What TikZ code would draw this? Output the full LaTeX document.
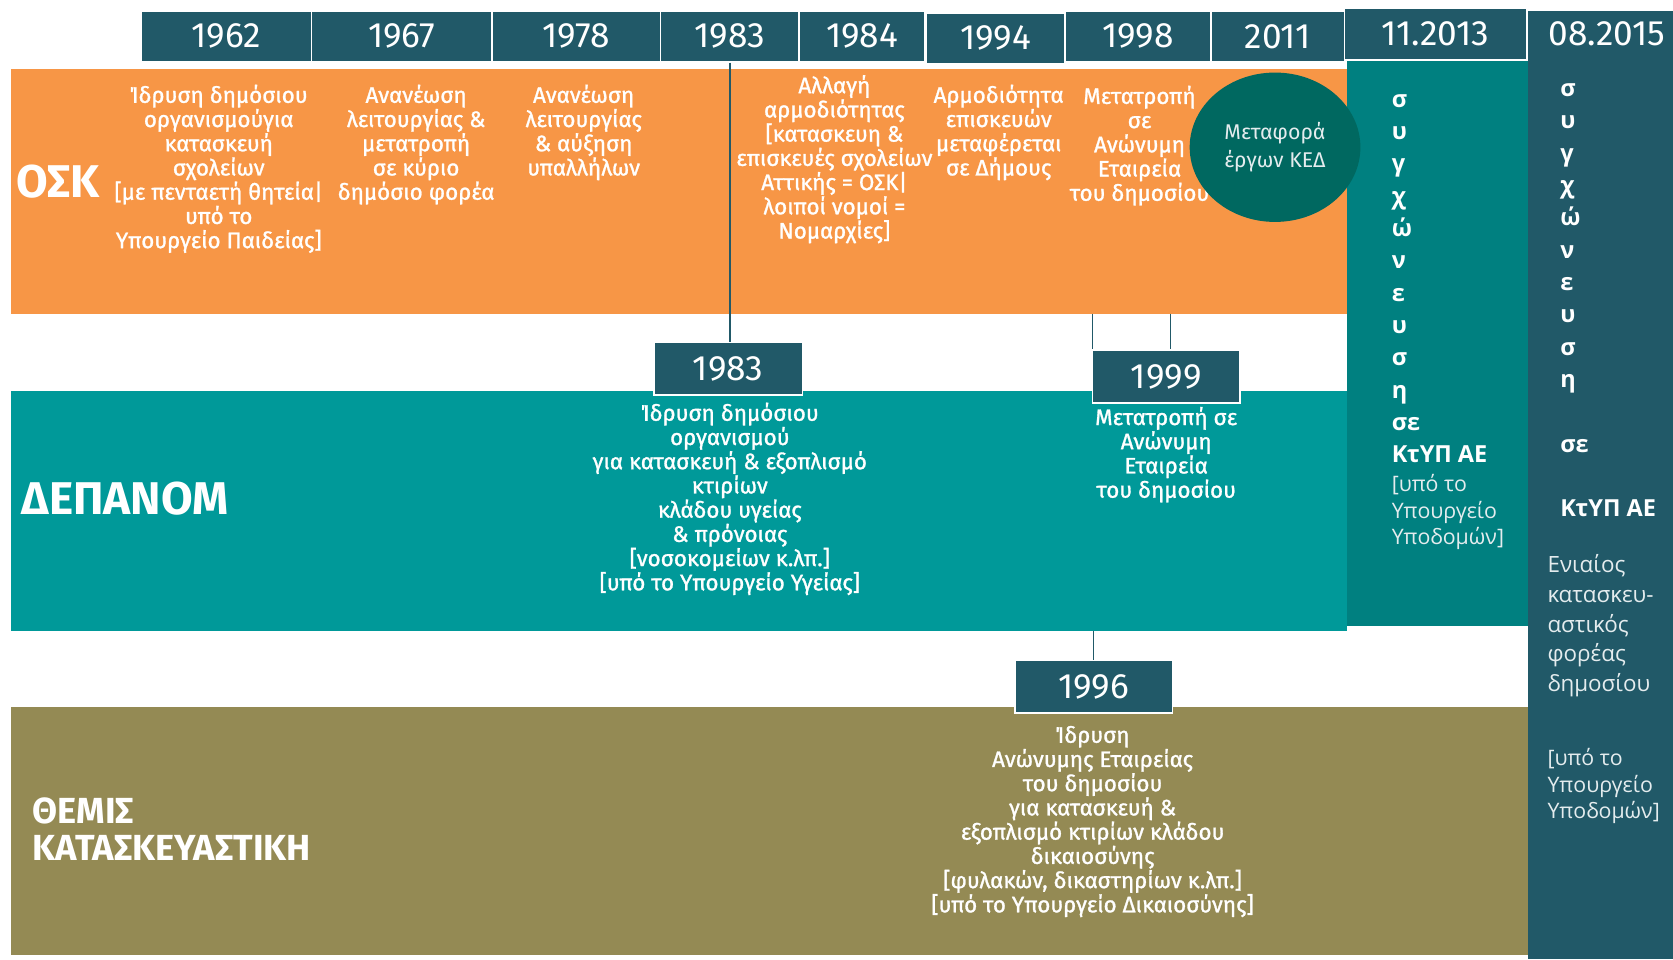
\documentclass[tikz,border=0pt]{standalone}
\usepackage{fontspec}
\setmainfont{Fira Sans}
\newfontfamily\bandfont[FakeBold=1.2]{Fira Sans}
\newfontfamily\colfont{Open Sans}
\usetikzlibrary{shapes.geometric}

\definecolor{hdr}{HTML}{215968}
\definecolor{osk}{HTML}{F79646}
\definecolor{dep}{HTML}{009999}
\definecolor{ktyp}{HTML}{008080}
\definecolor{themis}{HTML}{948A54}
\definecolor{kedfill}{HTML}{006860}
\definecolor{coltext}{HTML}{E4ECEE}

\tikzset{
  yearbox/.style={fill=hdr, draw=white, line width=0.8pt, text=white, inner sep=0pt,
    minimum height=24pt, font=\fontsize{16.5}{18}\selectfont},
  bandtxt/.style={text=white, align=center, anchor=north, inner sep=0pt,
    font=\bandfont\fontsize{10.5}{11.35}\selectfont},
  bigname/.style={text=white, anchor=west, inner sep=0pt, font=\bfseries\fontsize{21.5}{22}\selectfont},
  coltxt/.style={text=coltext, align=left, anchor=north west, inner sep=0pt,
    font=\colfont\fontsize{10}{12.5}\selectfont},
  colbold/.style={coltxt, text=white, font=\colfont\bfseries\fontsize{11}{15.15}\selectfont},
  tick/.style={draw=hdr, line width=0.75pt},
}

\begin{document}
\begin{tikzpicture}[x=0.5pt,y=-0.5pt]
  \useasboundingbox (0,0) rectangle (1568,899);

  % bands
  \fill[osk]    (10,65)   rectangle (1262,294);  % OSK
  \fill[dep]    (10,366)  rectangle (1262,591);  % DEPANOM
  \fill[themis] (10,663)  rectangle (1432,895);  % THEMIS
  \fill[ktyp]   (1262,56) rectangle (1432,587);  % 11.2013
  \fill[hdr]    (1432,10) rectangle (1568,899);  % 08.2015

  % year row
  \node[yearbox, minimum width=80pt]   (y1962) at (212,34)    {1962};
  \node[yearbox, minimum width=84.5pt] (y1967) at (376.5,34)  {1967};
  \node[yearbox, minimum width=79pt]   (y1978) at (540,34)    {1978};
  \node[yearbox, minimum width=65pt]   (y1983) at (684,34)    {1983};
  \node[yearbox, minimum width=59pt]   (y1984) at (808,34)    {1984};
  \node[yearbox, minimum width=65pt]   (y1994) at (933,36)    {1994};
  \node[yearbox, minimum width=68.5pt] (y1998) at (1066.5,34) {1998};
  \node[yearbox, minimum width=62.5pt] (y2011) at (1197.5,34) {2011};
  \node[yearbox, minimum width=85.5pt] (y2013) at (1345.5,32) {11.2013};
  \node[text=white, inner sep=0pt, font=\fontsize{16.5}{18}\selectfont] (y2015) at (1506,32) {08.2015};

  % OSK
  \node[bigname] (osk) at (15,170) {ΟΣΚ};
  \node[bandtxt] (t1962) at (205,79) {Ίδρυση δημόσιου\\οργανισμούγια\\κατασκευή\\σχολείων\\{[}με πενταετή θητεία|\\υπό το\\Υπουργείο Παιδείας]};
  \node[bandtxt] (t1967) at (390,79) {Ανανέωση\\λειτουργίας \&\\μετατροπή\\σε κύριο\\δημόσιο φορέα};
  \node[bandtxt] (t1978) at (547,79) {Ανανέωση\\λειτουργίας\\\& αύξηση\\υπαλλήλων};
  \node[bandtxt] (t1984) at (782,70) {Αλλαγή\\αρμοδιότητας\\{[}κατασκευη \&\\επισκευές σχολείων\\Αττικής = ΟΣΚ|\\λοιποί νομοί =\\Νομαρχίες]};
  \node[bandtxt] (t1994) at (936,79) {Αρμοδιότητα\\επισκευών\\μεταφέρεται\\σε Δήμους};
  \node[bandtxt] (t1998) at (1068,80) {Μετατροπή\\σε\\Ανώνυμη\\Εταιρεία\\του δημοσίου};
  \node[ellipse, fill=kedfill, minimum width=80pt, minimum height=70pt, inner sep=0pt,
    text=coltext, align=center, font=\fontsize{10}{13}\selectfont] (ked) at (1195,138) {Μεταφορά\\έργων ΚΕΔ};

  % DEPANOM
  \node[bigname] (depanom) at (20,467) {ΔΕΠΑΝΟΜ};
  \node[yearbox, minimum width=69.5pt, minimum height=24.5pt] (b1983) at (682.5,345.5) {1983};
  \node[bandtxt] (t1983) at (684,377) {Ίδρυση δημόσιου\\οργανισμού\\για κατασκευή \& εξοπλισμό\\κτιρίων\\κλάδου υγείας\\\& πρόνοιας\\{[}νοσοκομείων κ.λπ.]\\{[}υπό το Υπουργείο Υγείας]};
  \node[yearbox, minimum width=69pt, minimum height=25pt] (b1999) at (1093,353) {1999};
  \node[bandtxt] (t1999) at (1093,381) {Μετατροπή σε\\Ανώνυμη\\Εταιρεία\\του δημοσίου};

  % THEMIS
  \node[text=white, align=left, anchor=north west, inner sep=0pt,
    font=\bfseries\fontsize{17}{17.5}\selectfont] (themis) at (30,747) {ΘΕΜΙΣ\\ΚΑΤΑΣΚΕΥΑΣΤΙΚΗ};
  \node[yearbox, minimum width=74pt, minimum height=24.5pt] (b1996) at (1025,643.5) {1996};
  \node[bandtxt] (t1996) at (1024,680) {Ίδρυση\\Ανώνυμης Εταιρείας\\του δημοσίου\\για κατασκευή \&\\εξοπλισμό κτιρίων κλάδου\\δικαιοσύνης\\{[}φυλακών, δικαστηρίων κ.λπ.]\\{[}υπό το Υπουργείο Δικαιοσύνης]};

  % ticks
  \coordinate (c1998a) at (1024,294);
  \coordinate (c1998b) at (1097,294);
  \coordinate (c1996)  at (1025,591);
  \draw[tick] (y1983.south) -- (y1983.south |- b1983.north);
  \draw[tick] (c1998a) -- (c1998a |- b1999.north);
  \draw[tick] (c1998b) -- (c1998b |- b1999.north);
  \draw[tick] (c1996) -- (b1996.north);

  % 11.2013
  \node[colbold] (syg13) at (1304,88) {σ\\υ\\γ\\χ\\ώ\\ν\\ε\\υ\\σ\\η\\σε\\ΚτΥΠ ΑΕ};
  \node[coltxt] (ypo13) at (1304,444) {{[}υπό το\\Υπουργείο\\Υποδομών]};

  % 08.2015
  \node[colbold] (syg15) at (1462,78) {σ\\υ\\γ\\χ\\ώ\\ν\\ε\\υ\\σ\\η\\\\σε\\\\ΚτΥΠ ΑΕ};
  \node[coltxt, font=\colfont\fontsize{10.5}{14}\selectfont] (foreas) at (1450,519) {Ενιαίος\\κατασκευ-\\αστικός\\φορέας\\δημοσίου};
  \node[coltxt] (ypo15) at (1450,701) {{[}υπό το\\Υπουργείο\\Υποδομών]};
\end{tikzpicture}
\end{document}
